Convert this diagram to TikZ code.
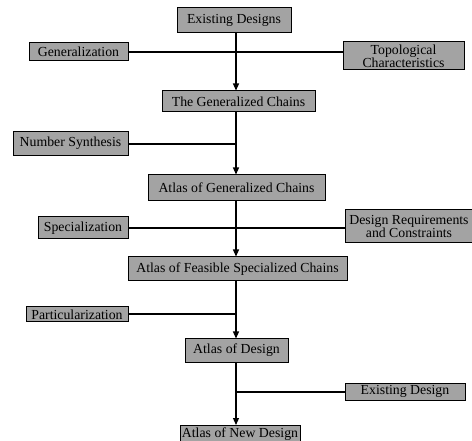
\documentclass[tikz,border=0pt]{standalone}
\usepackage{fontspec}
\setmainfont{Liberation Serif}
\usetikzlibrary{arrows.meta}
\begin{document}
\begin{tikzpicture}[x=1pt,y=-1pt,
  box/.style={draw=black,line width=1pt,fill=black!36,inner sep=0pt,align=center,
    font=\fontsize{13.8}{13}\selectfont},
  conn/.style={line width=1.2pt},
  arr/.style={conn,-{Triangle[width=6pt,length=7pt]}}]
\useasboundingbox (0,0) rectangle (472,441);
\node[box,minimum width=114pt,minimum height=25pt] (ed) at (234,20.5) {Existing Designs};
\node[box,minimum width=99pt,minimum height=18pt] (gen) at (78.5,52) {Generalization};
\node[box,minimum width=121pt,minimum height=28pt] (topo) at (403.5,56) {Topological\\Characteristics};
\node[box,minimum width=153pt,minimum height=21pt] (gc) at (238.5,101.5) {The Generalized Chains};
\node[box,minimum width=115pt,minimum height=24pt] (ns) at (70.5,143.5) {Number Synthesis};
\node[box,minimum width=177pt,minimum height=26pt] (agc) at (236.5,188) {Atlas of Generalized Chains};
\node[box,minimum width=90pt,minimum height=22pt] (spec) at (83,228) {Specialization};
\node[box,minimum width=128pt,minimum height=33pt] (drc) at (409,226.5) {Design Requirements\\and Constraints};
\node[box,minimum width=219pt,minimum height=24pt] (afsc) at (237.5,269) {Atlas of Feasible Specialized Chains};
\node[box,minimum width=102pt,minimum height=15pt] (part) at (77,314.5) {Particularization};
\node[box,minimum width=103pt,minimum height=23pt] (aod) at (236.5,350.5) {Atlas of Design};
\node[box,minimum width=120pt,minimum height=17pt] (exd) at (405,391.5) {Existing Design};
\node[box,minimum width=120pt,minimum height=18pt,anchor=north] (aond) at (240,425) {Atlas of New Design};
% junction coordinates on main trunk
\coordinate (j1) at (236,52);
\coordinate (j2) at (236,144);
\coordinate (j3) at (236,228);
\coordinate (j4) at (236,314);
\coordinate (j5) at (236,392);
% trunk arrows
\draw[arr] (ed.south -| j1) -- (gc.north -| j1);
\draw[arr] (gc.south -| j2) -- (agc.north -| j2);
\draw[arr] (agc.south -| j3) -- (afsc.north -| j3);
\draw[arr] (afsc.south -| j4) -- (aod.north -| j4);
\draw[arr] (aod.south -| j5) -- (aond.north -| j5);
% side connectors
\draw[conn] (gen.east |- j1) -- (j1);
\draw[conn] (topo.west |- j1) -- (j1);
\draw[conn] (ns.east |- j2) -- (j2);
\draw[conn] (spec.east |- j3) -- (j3);
\draw[conn] (drc.west |- j3) -- (j3);
\draw[conn] (part.east |- j4) -- (j4);
\draw[conn] (exd.west |- j5) -- (j5);
\end{tikzpicture}
\end{document}
